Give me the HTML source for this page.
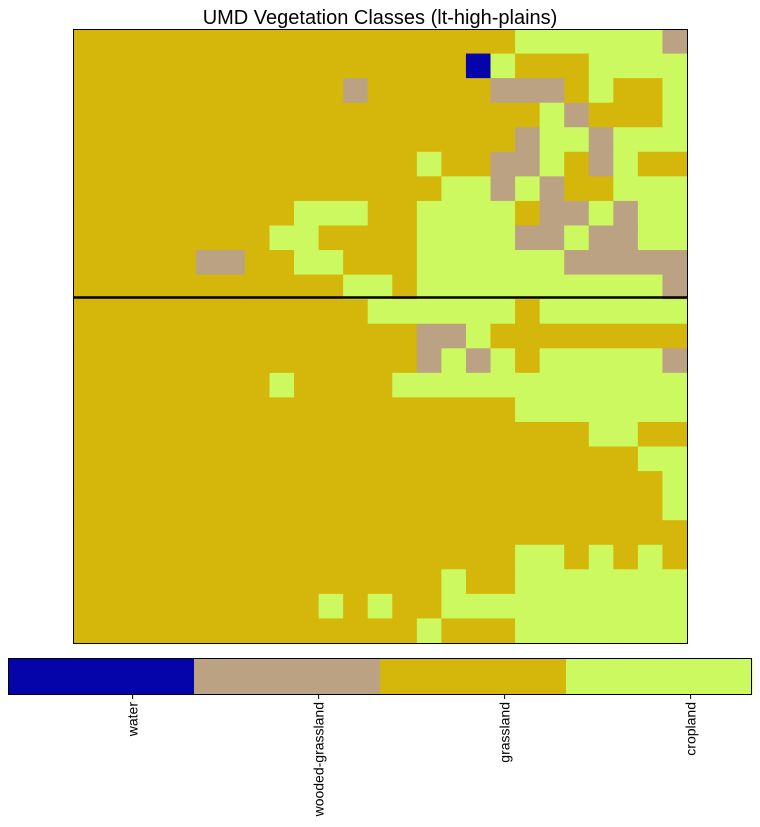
<!DOCTYPE html>
<html><head><meta charset="utf-8"><style>
body{margin:0;background:#fff;width:760px;height:822px;overflow:hidden;font-family:"Liberation Sans","DejaVu Sans",sans-serif;}
</style></head><body>
<svg width="760" height="822" xmlns="http://www.w3.org/2000/svg">
<text x="380" y="24" text-anchor="middle" font-size="20">UMD Vegetation Classes (lt-high-plains)</text>
<g id="grid"></g>
<line x1="73" x2="687" y1="297.5" y2="297.5" stroke="#000" stroke-width="2.5"/>
<rect x="73.5" y="29.5" width="614" height="614" fill="none" stroke="#000" stroke-width="1"/>
<g id="cbar"></g>
</svg>
<script>
const classes=['water','wooded-grassland','grassland','cropland'];
const classColors=['#0404aa','#bba283','#d5b60a','#ccf95f'];
const classValues=[0,1,2,3];
const codes={B:0,W:1,G:2,C:3};
const rows=[
"GGGGGGGGGGGGGGGGGGCCCCCCW",
"GGGGGGGGGGGGGGGGBCGGGCCCC",
"GGGGGGGGGGGWGGGGGWWWGCGGC",
"GGGGGGGGGGGGGGGGGGGCWGGGC",
"GGGGGGGGGGGGGGGGGGWCCWCCC",
"GGGGGGGGGGGGGGCGGWWCGWCGG",
"GGGGGGGGGGGGGGGCCWCWGGCCC",
"GGGGGGGGGCCCGGCCCCGWWCWCC",
"GGGGGGGGCCGGGGCCCCWWCWWCC",
"GGGGGWWGGCCGGGCCCCCCWWWWW",
"GGGGGGGGGGGCCGCCCCCCCCCCW",
"GGGGGGGGGGGGCCCCCCGCCCCCC",
"GGGGGGGGGGGGGGWWCGGGGGGGG",
"GGGGGGGGGGGGGGWCWCGCCCCCW",
"GGGGGGGGCGGGGCCCCCCCCCCCC",
"GGGGGGGGGGGGGGGGGGCCCCCCC",
"GGGGGGGGGGGGGGGGGGGGGCCGG",
"GGGGGGGGGGGGGGGGGGGGGGGCC",
"GGGGGGGGGGGGGGGGGGGGGGGGC",
"GGGGGGGGGGGGGGGGGGGGGGGGC",
"GGGGGGGGGGGGGGGGGGGGGGGGG",
"GGGGGGGGGGGGGGGGGGCCGCGCG",
"GGGGGGGGGGGGGGGCGGCCCCCCC",
"GGGGGGGGGGCGCGGCCCCCCCCCC",
"GGGGGGGGGGGGGGCGGGCCCCCCC"
];
const NS='http://www.w3.org/2000/svg';
const X0=73,Y0=29,W=614,H=614;
const n=rows.length,m=rows[0].length;
const xs=c=>X0+c*W/m, ys=r=>Y0+r*H/n;
const g=document.getElementById('grid');
rows.forEach((row,r)=>{[...row].forEach((ch,c)=>{
 const e=document.createElementNS(NS,'rect');
 e.setAttribute('x',xs(c));e.setAttribute('y',ys(r));
 e.setAttribute('width',W/m+0.5);e.setAttribute('height',H/n+0.5);
 e.setAttribute('fill',classColors[codes[ch]]);
 
 
 g.appendChild(e);
});});
const cb=document.getElementById('cbar');
const CX0=8,CW=744,CY=658,CH=37,k=classes.length;
const cx=i=>CX0+i*CW/k;
const tickX=v=>CX0+(v+0.67)*CW/k;
classes.forEach((name,i)=>{
 const e=document.createElementNS(NS,'rect');
 e.setAttribute('x',cx(i));e.setAttribute('y',CY);e.setAttribute('width',CW/k+0.5);e.setAttribute('height',CH);
 e.setAttribute('fill',classColors[i]);
 
 
 cb.appendChild(e);
 const mx=tickX(classValues[i]);
 const t=document.createElementNS(NS,'line');
 t.setAttribute('x1',mx);t.setAttribute('x2',mx);t.setAttribute('y1',CY+CH);t.setAttribute('y2',CY+CH+4);
 t.setAttribute('stroke','#000');
 
 
 cb.appendChild(t);
 const tx=document.createElementNS(NS,'text');
 tx.setAttribute('transform','translate('+(mx+5)+','+(CY+CH+7)+') rotate(-90)');
 tx.setAttribute('text-anchor','end');tx.setAttribute('font-size','14');
 tx.textContent=name;
 
 
 cb.appendChild(tx);
});
const fr=document.createElementNS(NS,'rect');
fr.setAttribute('x',CX0+0.5);fr.setAttribute('y',CY+0.5);fr.setAttribute('width',CW-1);fr.setAttribute('height',CH-1);
fr.setAttribute('fill','none');fr.setAttribute('stroke','#000');


cb.appendChild(fr);
</script>
</body></html>
